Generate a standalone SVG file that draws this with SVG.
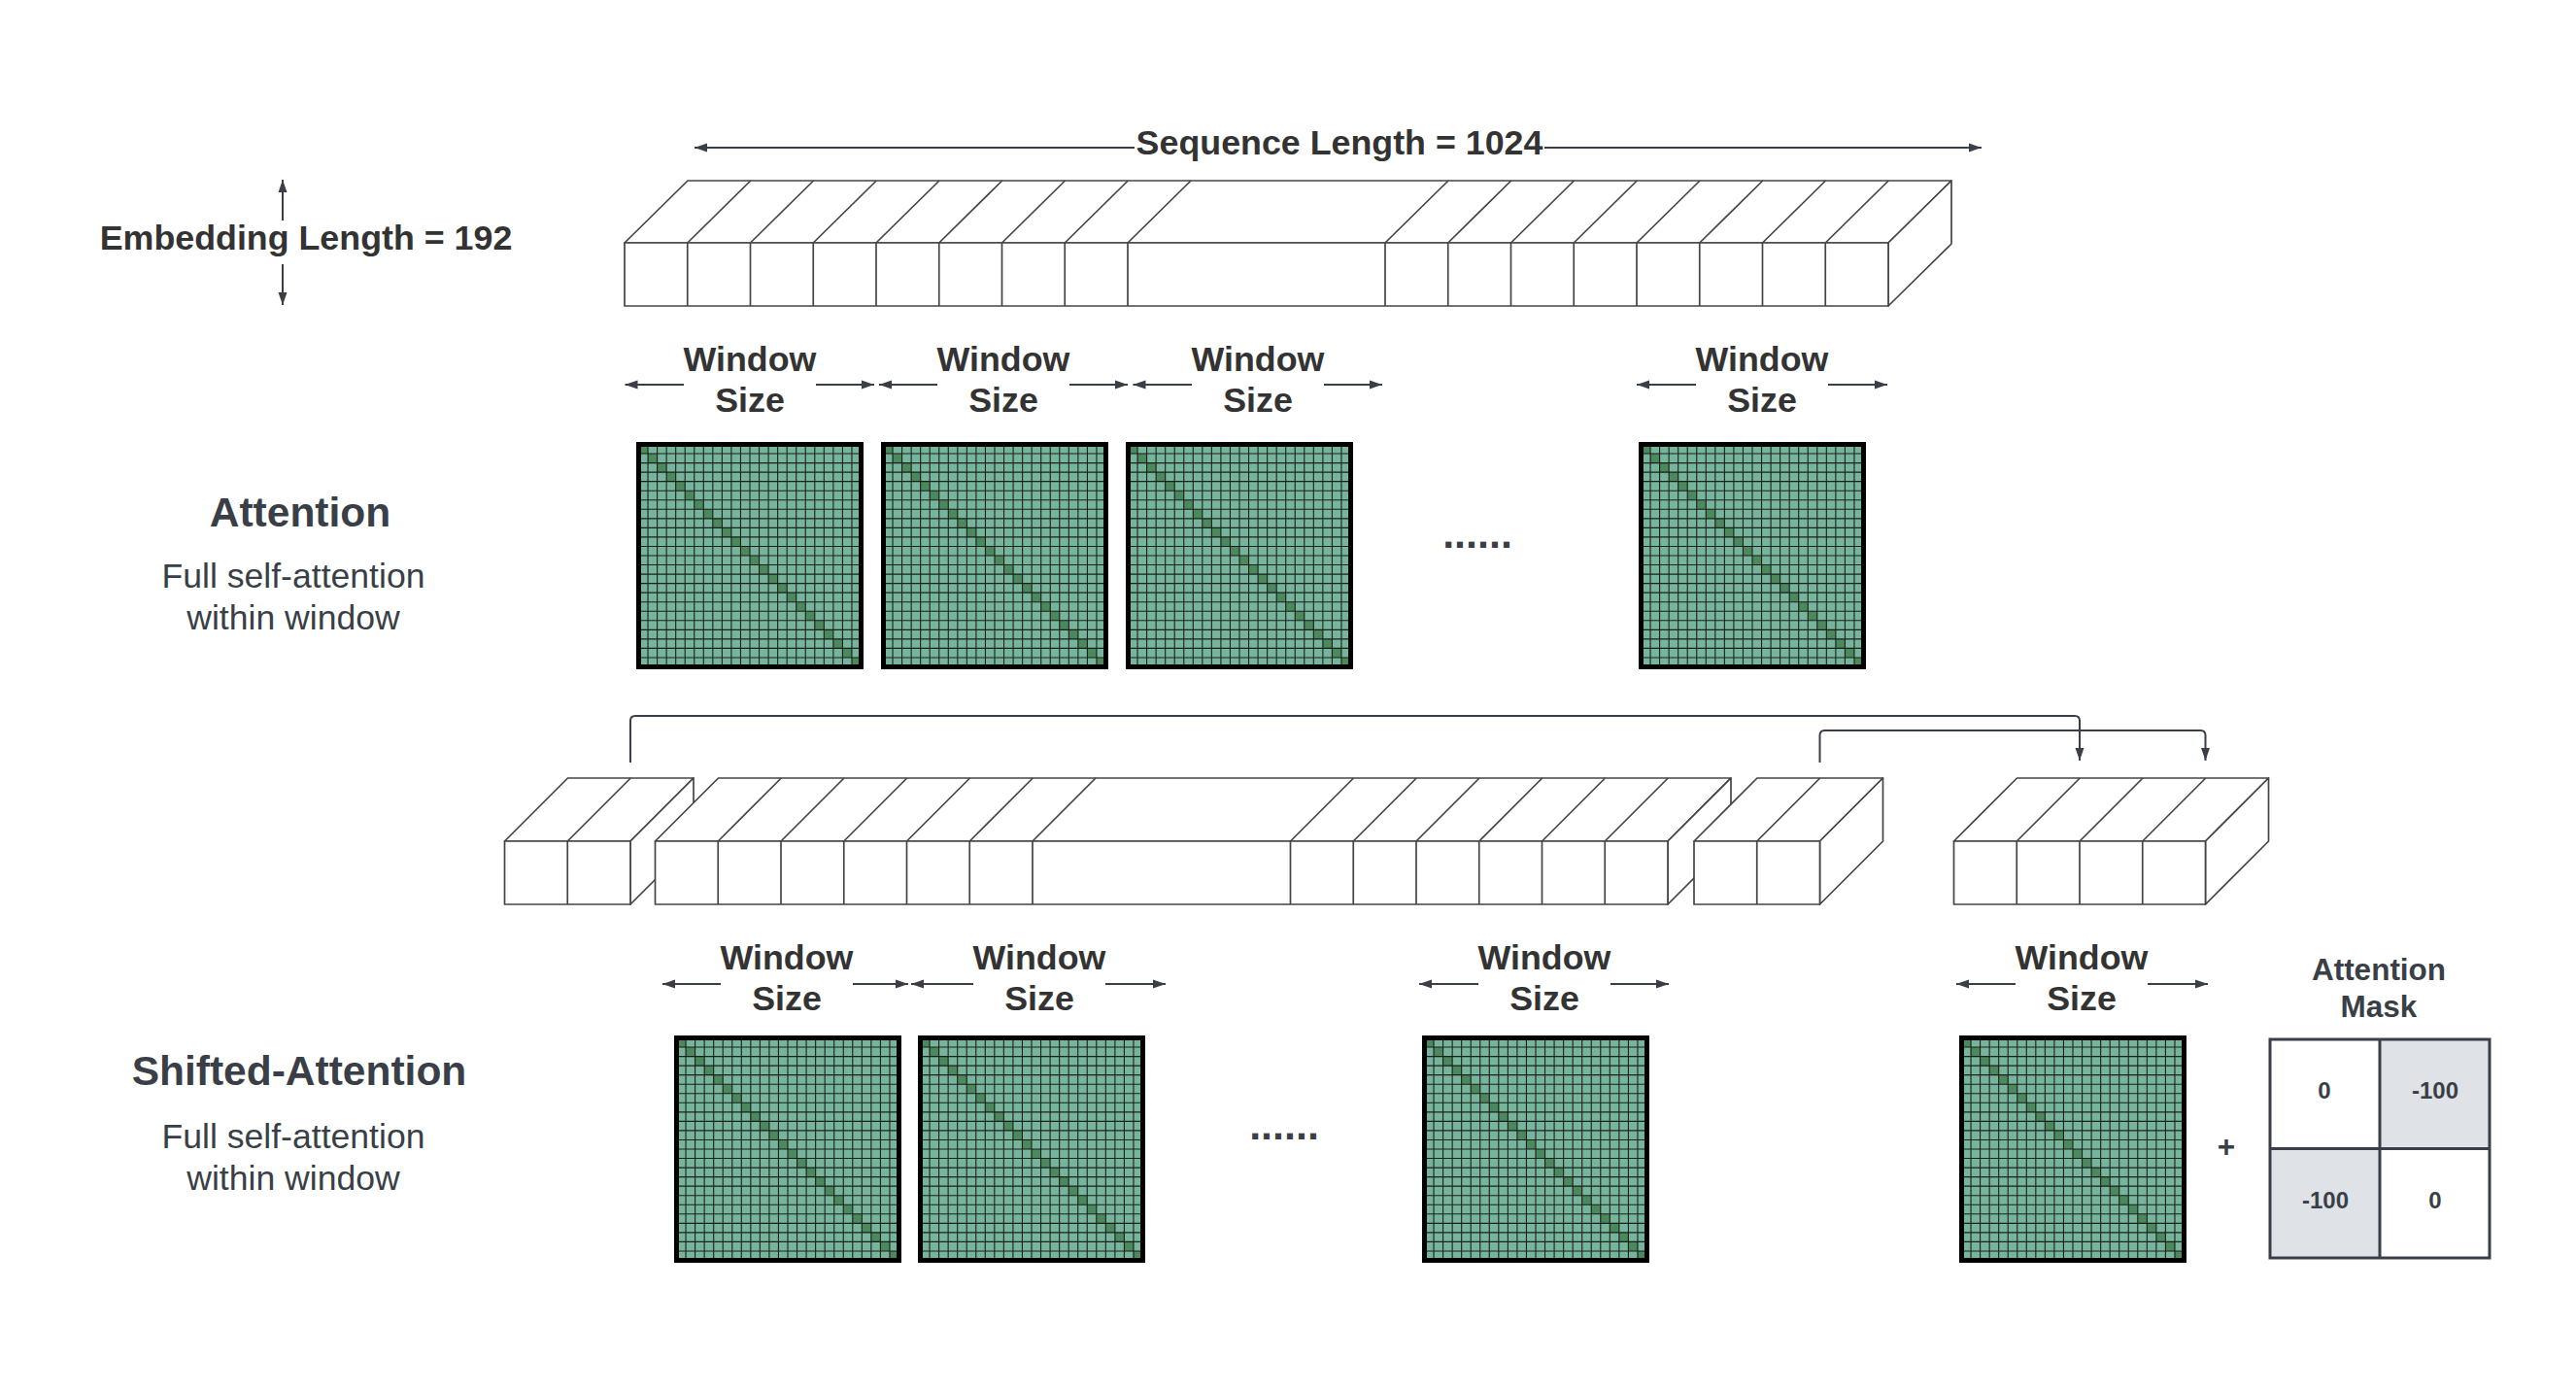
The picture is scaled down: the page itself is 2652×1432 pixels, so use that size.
<svg xmlns="http://www.w3.org/2000/svg" xmlns:xlink="http://www.w3.org/1999/xlink" width="2652" height="1432" viewBox="0 0 2652 1432">
<style>
.lbl{font-family:"Liberation Sans",Arial,sans-serif;font-weight:bold;font-size:35.8px;fill:#333333;text-anchor:middle}
.head{font-family:"Liberation Sans",Arial,sans-serif;font-weight:bold;font-size:42.5px;fill:#3a3f47;text-anchor:middle}
.sub{font-family:"Liberation Sans",Arial,sans-serif;font-size:35.6px;fill:#3a3f47;text-anchor:middle}
.dots{font-family:"Liberation Sans",Arial,sans-serif;font-weight:bold;font-size:43px;fill:#3a3f47;text-anchor:middle}
.mtxt{font-family:"Liberation Sans",Arial,sans-serif;font-weight:bold;font-size:24px;fill:#3a3f47;text-anchor:middle}
.mtitle{font-family:"Liberation Sans",Arial,sans-serif;font-weight:bold;font-size:31.5px;fill:#3a3f47;text-anchor:middle}
.face{fill:#ffffff;stroke:#454545;stroke-width:1.7;stroke-linejoin:round}
.cell{fill:none;stroke:#454545;stroke-width:1.7}
.arr{fill:none;stroke:#3a3f47;stroke-width:2;marker-end:url(#ah)}
</style>
<defs>
<marker id="ah" markerWidth="13" markerHeight="10" refX="13" refY="5" orient="auto" markerUnits="userSpaceOnUse">
<path d="M0,0.5 L13,5 L0,9.5 z" fill="#3a3f47"/>
</marker>
<g id="mat">
<rect x="2.5" y="2.5" width="229" height="229" fill="#76b59c"/>
<path fill="#4d885c" d="M2.5,2.5h9.5417v9.5417h-9.5417z m9.5417,9.5417h9.5417v9.5417h-9.5417z m9.5417,9.5417h9.5417v9.5417h-9.5417z m9.5417,9.5417h9.5417v9.5417h-9.5417z m9.5417,9.5417h9.5417v9.5417h-9.5417z m9.5417,9.5417h9.5417v9.5417h-9.5417z m9.5417,9.5417h9.5417v9.5417h-9.5417z m9.5417,9.5417h9.5417v9.5417h-9.5417z m9.5417,9.5417h9.5417v9.5417h-9.5417z m9.5417,9.5417h9.5417v9.5417h-9.5417z m9.5417,9.5417h9.5417v9.5417h-9.5417z m9.5417,9.5417h9.5417v9.5417h-9.5417z m9.5417,9.5417h9.5417v9.5417h-9.5417z m9.5417,9.5417h9.5417v9.5417h-9.5417z m9.5417,9.5417h9.5417v9.5417h-9.5417z m9.5417,9.5417h9.5417v9.5417h-9.5417z m9.5417,9.5417h9.5417v9.5417h-9.5417z m9.5417,9.5417h9.5417v9.5417h-9.5417z m9.5417,9.5417h9.5417v9.5417h-9.5417z m9.5417,9.5417h9.5417v9.5417h-9.5417z m9.5417,9.5417h9.5417v9.5417h-9.5417z m9.5417,9.5417h9.5417v9.5417h-9.5417z m9.5417,9.5417h9.5417v9.5417h-9.5417z m9.5417,9.5417h9.5417v9.5417h-9.5417z"/>
<path fill="none" stroke="#111111" stroke-width="1.1" stroke-opacity="0.9" d="M12.04,2.5V231.5M21.58,2.5V231.5M31.13,2.5V231.5M40.67,2.5V231.5M50.21,2.5V231.5M59.75,2.5V231.5M69.29,2.5V231.5M78.83,2.5V231.5M88.38,2.5V231.5M97.92,2.5V231.5M107.46,2.5V231.5M117,2.5V231.5M126.54,2.5V231.5M136.08,2.5V231.5M145.63,2.5V231.5M155.17,2.5V231.5M164.71,2.5V231.5M174.25,2.5V231.5M183.79,2.5V231.5M193.33,2.5V231.5M202.88,2.5V231.5M212.42,2.5V231.5M221.96,2.5V231.5 M2.5,12.04H231.5M2.5,21.58H231.5M2.5,31.13H231.5M2.5,40.67H231.5M2.5,50.21H231.5M2.5,59.75H231.5M2.5,69.29H231.5M2.5,78.83H231.5M2.5,88.38H231.5M2.5,97.92H231.5M2.5,107.46H231.5M2.5,117H231.5M2.5,126.54H231.5M2.5,136.08H231.5M2.5,145.63H231.5M2.5,155.17H231.5M2.5,164.71H231.5M2.5,174.25H231.5M2.5,183.79H231.5M2.5,193.33H231.5M2.5,202.88H231.5M2.5,212.42H231.5M2.5,221.96H231.5"/>
<rect x="2.5" y="2.5" width="229" height="229" fill="none" stroke="#000000" stroke-width="5"/>
</g>
</defs>
<rect width="2652" height="1432" fill="#ffffff"/>

<g id="label-sequence"><text class="lbl" x="1379" y="159">Sequence Length = 1024</text></g>
<g id="label-embedding"><text class="lbl" x="315" y="257">Embedding Length = 192</text></g>

<g id="seq-top">
<polygon class="face" points="643,250 708,186 2009,186 1944,250"/>
<polygon class="face" points="1944,250 2009,186 2009,251 1944,315"/>
<rect class="face" x="643" y="250" width="1301" height="65"/>
<path class="cell" d="M707.75,315V250l65,-64 M772.5,315V250l65,-64 M837.25,315V250l65,-64 M902,315V250l65,-64 M966.75,315V250l65,-64 M1031.5,315V250l65,-64 M1096.25,315V250l65,-64 M1161,315V250l65,-64 M1426,315V250l65,-64 M1490.75,315V250l65,-64 M1555.5,315V250l65,-64 M1620.25,315V250l65,-64 M1685,315V250l65,-64 M1749.75,315V250l65,-64 M1814.5,315V250l65,-64 M1879.25,315V250l65,-64"/>
</g>

<g id="ws-top-1"><text class="lbl" x="772" y="382">Window</text><text class="lbl" x="772" y="424">Size</text></g>
<g id="ws-top-2"><text class="lbl" x="1033" y="382">Window</text><text class="lbl" x="1033" y="424">Size</text></g>
<g id="ws-top-3"><text class="lbl" x="1295" y="382">Window</text><text class="lbl" x="1295" y="424">Size</text></g>
<g id="ws-top-4"><text class="lbl" x="1814" y="382">Window</text><text class="lbl" x="1814" y="424">Size</text></g>

<g id="attention-label">
<text class="head" x="309" y="542">Attention</text>
<text class="sub" x="302" y="605">Full self-attention</text>
<text class="sub" x="302" y="648">within window</text>
</g>

<g id="att-1"><use xlink:href="#mat" href="#mat" x="655" y="455"/></g>
<g id="att-2"><use xlink:href="#mat" href="#mat" x="907" y="455"/></g>
<g id="att-3"><use xlink:href="#mat" href="#mat" x="1159" y="455"/></g>
<g id="att-dots"><text class="dots" x="1521" y="564">......</text></g>
<g id="att-4"><use xlink:href="#mat" href="#mat" x="1687" y="455"/></g>

<g id="shift-block-a">
<polygon class="face" points="519.5,866 584.5,801 714,801 649,866"/>
<polygon class="face" points="649,866 714,801 714,866 649,931"/>
<rect class="face" x="519.5" y="866" width="129.5" height="65"/>
<path class="cell" d="M584.25,931V866l65,-65"/>
</g>
<g id="shift-block-b">
<polygon class="face" points="674.5,866 739.5,801 1782,801 1717,866"/>
<polygon class="face" points="1717,866 1782,801 1782,866 1717,931"/>
<rect class="face" x="674.5" y="866" width="1042.5" height="65"/>
<path class="cell" d="M739.25,931V866l65,-65 M804,931V866l65,-65 M868.75,931V866l65,-65 M933.5,931V866l65,-65 M998.25,931V866l65,-65 M1063,931V866l65,-65 M1328.5,931V866l65,-65 M1393.25,931V866l65,-65 M1458,931V866l65,-65 M1522.75,931V866l65,-65 M1587.5,931V866l65,-65 M1652.25,931V866l65,-65"/>
</g>
<g id="shift-block-c">
<polygon class="face" points="1744,866 1809,801 1938.5,801 1873.5,866"/>
<polygon class="face" points="1873.5,866 1938.5,801 1938.5,866 1873.5,931"/>
<rect class="face" x="1744" y="866" width="129.5" height="65"/>
<path class="cell" d="M1808.75,931V866l65,-65"/>
</g>
<g id="shift-block-d">
<polygon class="face" points="2011.5,866 2076.5,801 2335.5,801 2270.5,866"/>
<polygon class="face" points="2270.5,866 2335.5,801 2335.5,866 2270.5,931"/>
<rect class="face" x="2011.5" y="866" width="259" height="65"/>
<path class="cell" d="M2076.25,931V866l65,-65 M2141,931V866l65,-65 M2205.75,931V866l65,-65"/>
</g>

<g id="ws-low-1"><text class="lbl" x="810" y="998">Window</text><text class="lbl" x="810" y="1040">Size</text></g>
<g id="ws-low-2"><text class="lbl" x="1070" y="998">Window</text><text class="lbl" x="1070" y="1040">Size</text></g>
<g id="ws-low-3"><text class="lbl" x="1590" y="998">Window</text><text class="lbl" x="1590" y="1040">Size</text></g>
<g id="ws-low-4"><text class="lbl" x="2143" y="998">Window</text><text class="lbl" x="2143" y="1040">Size</text></g>

<g id="shifted-label">
<text class="head" x="308" y="1117">Shifted-Attention</text>
<text class="sub" x="302" y="1182">Full self-attention</text>
<text class="sub" x="302" y="1225">within window</text>
</g>

<g id="satt-1"><use xlink:href="#mat" href="#mat" x="694" y="1066"/></g>
<g id="satt-2"><use xlink:href="#mat" href="#mat" x="945" y="1066"/></g>
<g id="satt-dots"><text class="dots" x="1322" y="1173">......</text></g>
<g id="satt-3"><use xlink:href="#mat" href="#mat" x="1464" y="1066"/></g>
<g id="satt-4"><use xlink:href="#mat" href="#mat" x="2017" y="1066"/></g>
<g id="plus"><text class="mtitle" x="2292" y="1191">+</text></g>

<g id="attention-mask">
<text class="mtitle" x="2449" y="1009">Attention</text>
<text class="mtitle" x="2449" y="1047">Mask</text>
<rect x="2337" y="1070" width="113" height="112.5" fill="#ffffff"/>
<rect x="2450" y="1070" width="113" height="112.5" fill="#dfe2e6"/>
<rect x="2337" y="1182.5" width="113" height="112.5" fill="#dfe2e6"/>
<rect x="2450" y="1182.5" width="113" height="112.5" fill="#ffffff"/>
<path d="M2337,1070H2563V1295H2337Z M2450,1070V1295 M2337,1182.5H2563" fill="none" stroke="#3a3f47" stroke-width="3"/>
<text class="mtxt" x="2393" y="1131">0</text>
<text class="mtxt" x="2507" y="1131">-100</text>
<text class="mtxt" x="2394" y="1244">-100</text>
<text class="mtxt" x="2507" y="1244">0</text>
</g>

<g id="connectors">
<path class="arr" d="M1168,152H715"/>
<path class="arr" d="M1590,152H2040"/>
<path class="arr" d="M291,227V185"/>
<path class="arr" d="M291,272V314"/>
<path class="arr" d="M704,396H643.5"/><path class="arr" d="M840,396H900"/>
<path class="arr" d="M965,396H905"/><path class="arr" d="M1101,396H1161"/>
<path class="arr" d="M1227,396H1166.5"/><path class="arr" d="M1363,396H1423"/>
<path class="arr" d="M1746,396H1685"/><path class="arr" d="M1882,396H1943"/>
<path class="arr" d="M742,1013H682"/><path class="arr" d="M878,1013H935"/>
<path class="arr" d="M1002,1013H938"/><path class="arr" d="M1138,1013H1200"/>
<path class="arr" d="M1522,1013H1461"/><path class="arr" d="M1658,1013H1718"/>
<path class="arr" d="M2075,1013H2014"/><path class="arr" d="M2211,1013H2273"/>
<path class="arr" d="M649,785V742Q649,737 654,737H2136Q2141,737 2141,742V783"/>
<path class="arr" d="M1873.5,785V757Q1873.5,752 1878.5,752H2265.5Q2270.5,752 2270.5,757V783"/>
</g>
</svg>
